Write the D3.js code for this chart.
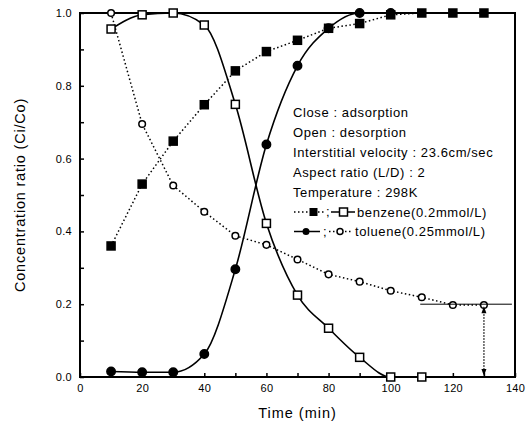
<!DOCTYPE html>
<html>
<head>
<meta charset="utf-8">
<script src="https://cdn.jsdelivr.net/npm/d3@7"></script>
<style>
  body { margin: 0; background: #fff; }
  svg { display: block; font-family: "Liberation Sans", Arial, sans-serif; }
</style>
</head>
<body>
<div id="chart"></div>
<script>
// time points (min)
const times = [10, 20, 30, 40, 50, 60, 70, 80, 90, 100, 110, 120, 130];

// benzene: adsorption (close, dotted) / desorption (open, solid)
const benzeneAds = [0.36, 0.53, 0.648, 0.748, 0.841, 0.894, 0.925, 0.958, 0.971, 0.995, 1.0, 1.0, 1.0];
const benzeneDes = [0.956, 0.995, 1.0, 0.967, 0.749, 0.422, 0.225, 0.134, 0.054, 0.0, 0.0];

// toluene: adsorption (close, solid) / desorption (open, dotted)
const tolueneAds = [0.015, 0.013, 0.013, 0.063, 0.296, 0.639, 0.855, 0.958, 1.0, 1.0];
const tolueneDes = [1.0, 0.695, 0.526, 0.454, 0.388, 0.363, 0.323, 0.282, 0.262, 0.237, 0.219, 0.198, 0.198];

const xTicks = [0, 20, 40, 60, 80, 100, 120, 140];
const yTicks = [0.0, 0.2, 0.4, 0.6, 0.8, 1.0];

const notes = [
  "Close : adsorption",
  "Open : desorption",
  "Interstitial velocity : 23.6cm/sec",
  "Aspect ratio (L/D) : 2",
  "Temperature : 298K"
];
const legendNames = ["benzene(0.2mmol/L)", "toluene(0.25mmol/L)"];

// breakthrough marker: C/Co level and where it is measured
const refLevel = 0.2, refTime = 130, refLine = [109.5, 139];

const width = 529, height = 421;
const margin = {top: 13, right: 14, bottom: 44, left: 80};

const svg = d3.select("#chart").append("svg")
  .attr("width", width).attr("height", height);

const x = d3.scaleLinear().domain([0, 140]).range([margin.left, width - margin.right]);
const y = d3.scaleLinear().domain([0, 1]).range([height - margin.bottom, margin.top]);

const pts = vals => vals.map((v, i) => [times[i], v]);

// axes, ticks pointing inward
const xAxis = svg.append("g")
  .attr("transform", `translate(0,${y(0)})`)
  .call(d3.axisBottom(x).tickValues(d3.range(0, 141, 10)).tickSize(-4).tickFormat(d => xTicks.includes(d) ? d : ""));
const yAxis = svg.append("g")
  .attr("transform", `translate(${x(0)},0)`)
  .call(d3.axisLeft(y).tickValues(d3.range(0, 1.01, 0.1)).tickSize(-4)
    .tickFormat(d => yTicks.some(t => Math.abs(t - d) < 1e-6) ? d3.format(".1f")(d) : ""));

[xAxis, yAxis].forEach(g => {
  g.select(".domain").remove();
  g.selectAll("line").attr("stroke", "#000").attr("stroke-width", 1.5);
  g.selectAll("text").attr("fill", "#000").style("font-size", "11px").style("letter-spacing", "0.3px");
});
xAxis.selectAll("text").attr("dy", "1.1em");
yAxis.selectAll("text").attr("x", -8);

// frame
svg.append("rect")
  .attr("x", x(0)).attr("y", y(1))
  .attr("width", x(140) - x(0)).attr("height", y(0) - y(1))
  .attr("fill", "none").attr("stroke", "#000").attr("stroke-width", 2);

// axis titles
svg.append("text")
  .attr("x", (x(0) + x(140)) / 2).attr("y", 418)
  .attr("text-anchor", "middle").style("font-size", "14.5px").style("letter-spacing", "1px")
  .text("Time (min)");
svg.append("text")
  .attr("transform", `translate(25,${(y(0) + y(1)) / 2}) rotate(-90)`)
  .attr("text-anchor", "middle").style("font-size", "14.5px").style("letter-spacing", "0.8px")
  .text("Concentration ratio (Ci/Co)");

const straight = d3.line().x(d => x(d[0])).y(d => y(d[1]));
const smooth = d3.line().x(d => x(d[0])).y(d => y(d[1])).curve(d3.curveMonotoneX);
const dotted = "1.5,2.5";

const plot = svg.append("g");

// lines
plot.append("path").datum(pts(benzeneAds)).attr("d", straight)
  .attr("fill", "none").attr("stroke", "#000").attr("stroke-width", 1.5)
  .attr("stroke-dasharray", dotted);
plot.append("path").datum(pts(tolueneDes)).attr("d", straight)
  .attr("fill", "none").attr("stroke", "#000").attr("stroke-width", 1.5)
  .attr("stroke-dasharray", dotted);
plot.append("path").datum(pts(benzeneDes)).attr("d", smooth)
  .attr("fill", "none").attr("stroke", "#000").attr("stroke-width", 1.6);
plot.append("path").datum(pts(tolueneAds).concat([[140, 1.0]])).attr("d", smooth)
  .attr("fill", "none").attr("stroke", "#000").attr("stroke-width", 1.6);

// markers
function squares(data, filled) {
  plot.selectAll(null).data(data).enter().append("rect")
    .attr("x", d => x(d[0]) - 4).attr("y", d => y(d[1]) - 4)
    .attr("width", 8).attr("height", 8)
    .attr("fill", filled ? "#000" : "#fff").attr("stroke", "#000").attr("stroke-width", 1.5);
}
function circles(data, filled) {
  plot.selectAll(null).data(data).enter().append("circle")
    .attr("cx", d => x(d[0])).attr("cy", d => y(d[1]))
    .attr("r", filled ? 4.2 : 3.3)
    .attr("fill", filled ? "#000" : "#fff").attr("stroke", "#000").attr("stroke-width", 1.5);
}
circles(pts(tolueneDes), false);
circles(pts(tolueneAds), true);
squares(pts(benzeneAds), true);
squares(pts(benzeneDes), false);

// reference level and double arrow
svg.append("line")
  .attr("x1", x(refLine[0])).attr("x2", x(refLine[1]))
  .attr("y1", y(refLevel)).attr("y2", y(refLevel))
  .attr("stroke", "#000").attr("stroke-width", 1);
svg.append("line")
  .attr("x1", x(refTime)).attr("x2", x(refTime))
  .attr("y1", y(refLevel) + 4).attr("y2", y(0) - 4)
  .attr("stroke", "#000").attr("stroke-width", 1.3).attr("stroke-dasharray", "1.5,1.5");
const ax = x(refTime);
svg.append("path")
  .attr("d", `M${ax},${y(refLevel) + 2} l-2.5,7 l5,0 Z M${ax},${y(0) - 1} l-2.5,-7 l5,0 Z`)
  .attr("fill", "#000");

// notes
const noteG = svg.append("g").style("font-size", "13px").style("letter-spacing", "0.6px");
noteG.selectAll("text").data(notes).enter().append("text")
  .attr("x", 293).attr("y", (d, i) => 116.5 + i * 20)
  .text(d => d);

// legend
const lg = svg.append("g").style("font-size", "13px").style("letter-spacing", "0.6px");
const r1 = 212, r2 = 231.5;
lg.append("line").attr("x1", 294).attr("x2", 324).attr("y1", r1).attr("y2", r1)
  .attr("stroke", "#000").attr("stroke-width", 1.5).attr("stroke-dasharray", dotted);
lg.append("rect").attr("x", 309.5).attr("y", r1 - 4).attr("width", 8).attr("height", 8).attr("fill", "#000");
lg.append("text").attr("x", 326).attr("y", r1 + 4).text(";");
lg.append("line").attr("x1", 331).attr("x2", 355).attr("y1", r1).attr("y2", r1)
  .attr("stroke", "#000").attr("stroke-width", 1.5);
lg.append("rect").attr("x", 339.5).attr("y", r1 - 4).attr("width", 8).attr("height", 8)
  .attr("fill", "#fff").attr("stroke", "#000").attr("stroke-width", 1.5);
lg.append("text").attr("x", 357).attr("y", r1 + 4.5).text(legendNames[0]);

lg.append("line").attr("x1", 294).attr("x2", 320).attr("y1", r2).attr("y2", r2)
  .attr("stroke", "#000").attr("stroke-width", 1.5);
lg.append("circle").attr("cx", 306).attr("cy", r2).attr("r", 3.5).attr("fill", "#000");
lg.append("text").attr("x", 323).attr("y", r2 + 4).text(";");
lg.append("line").attr("x1", 329).attr("x2", 352).attr("y1", r2).attr("y2", r2)
  .attr("stroke", "#000").attr("stroke-width", 1.5).attr("stroke-dasharray", dotted);
lg.append("circle").attr("cx", 340).attr("cy", r2).attr("r", 3).attr("fill", "#fff")
  .attr("stroke", "#000").attr("stroke-width", 1.5);
lg.append("text").attr("x", 355).attr("y", r2 + 4.5).text(legendNames[1]);
</script>
</body>
</html>
